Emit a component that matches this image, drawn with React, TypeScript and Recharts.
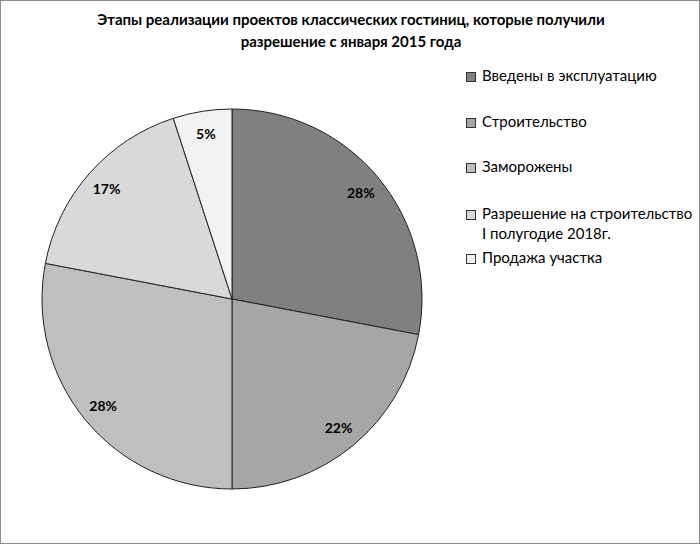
import React from "react";
import { PieChart, Pie, Cell, Legend } from "recharts";

const categories = [
  "Введены в эксплуатацию",
  "Строительство",
  "Заморожены",
  "Разрешение на строительство\nI полугодие 2018г.",
  "Продажа участка",
];
const shares = [28, 22, 28, 17, 5];
const COLORS = ["#808080", "#a6a6a6", "#bfbfbf", "#d9d9d9", "#f2f2f2"];

const data = categories.map((name, i) => ({ name, value: shares[i] }));

const FONT = "Lato, 'Open Sans', sans-serif";
const RADIAN = Math.PI / 180;

const renderLabel = (props: any) => {
  const { cx, cy, midAngle, outerRadius, value } = props;
  const r = outerRadius * 0.88;
  const x = cx + r * Math.cos(-midAngle * RADIAN);
  const y = cy + r * Math.sin(-midAngle * RADIAN);
  return (
    <text
      x={x}
      y={y}
      textAnchor="middle"
      dominantBaseline="central"
      fontFamily={FONT}
      fontWeight="bold"
      fontSize={14}
      fill="#000"
    >
      {`${value}%`}
    </text>
  );
};

const LegendBox = () => {
  const tops = [65, 111, 156, 203, 247];
  return (
    <div style={{ position: "relative", fontFamily: FONT, fontSize: 15, color: "#000" }}>
      {data.map((d, i) => (
        <div
          key={d.name}
          style={{ position: "absolute", top: tops[i], left: 0, display: "flex", alignItems: "flex-start" }}
        >
          <div
            style={{
              width: 8,
              height: 8,
              marginTop: 6,
              marginRight: 6,
              background: COLORS[i],
              border: "1px solid #333",
            }}
          />
          <div style={{ whiteSpace: "pre", lineHeight: "20px", marginTop: -1 }}>{d.name}</div>
        </div>
      ))}
    </div>
  );
};

export default function App() {
  return (
    <div
      style={{
        position: "absolute",
        left: 0,
        top: 0,
        width: 698,
        height: 542,
        border: "1px solid #8c8c8c",
        background: "#fff",
      }}
    >
      <div
        style={{
          position: "absolute",
          top: 7,
          left: 0,
          width: 700,
          textAlign: "center",
          fontFamily: FONT,
          fontWeight: "bold",
          fontSize: 15,
          lineHeight: "22px",
          color: "#000",
        }}
      >
        Этапы реализации проектов классических гостиниц, которые получили
        <br />
        разрешение с января 2015 года
      </div>
      <PieChart width={698} height={542} margin={{ top: 0, right: 0, bottom: 0, left: 0 }}>
        <Pie
          data={data}
          dataKey="value"
          nameKey="name"
          cx={231}
          cy={298}
          outerRadius={190}
          startAngle={90}
          endAngle={-270}
          stroke="#222"
          strokeWidth={1}
          label={renderLabel}
          labelLine={false}
          isAnimationActive={false}
        >
          {data.map((_d, i) => (
            <Cell key={`cell-${i}`} fill={COLORS[i]} />
          ))}
        </Pie>
        <Legend
          content={() => <LegendBox />}
          wrapperStyle={{ position: "absolute", left: 465, top: 0, width: 230 }}
        />
      </PieChart>
    </div>
  );
}
